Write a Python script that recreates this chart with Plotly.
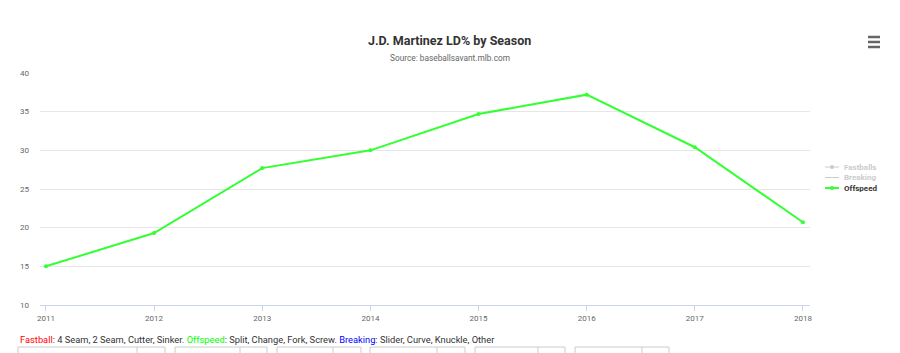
import plotly.graph_objects as go

years = [2011, 2012, 2013, 2014, 2015, 2016, 2017, 2018]
offspeed = [15.0, 19.3, 27.7, 30.0, 34.7, 37.2, 30.4, 20.7]
y_ticks = [10, 15, 20, 25, 30, 35, 40]
legend_names = ["Fastballs", "Breaking", "Offspeed"]
legend_colors = ["#cccccc", "#cccccc", "#33ff33"]
legend_text_colors = ["#cccccc", "#cccccc", "#333333"]
legend_markers = [True, False, True]

FONT = "Roboto"
W, H = 900, 353
L, R, T, B = 40, 90, 73, 48
pw, ph = W - L - R, H - T - B

def px_to_paper(x, y):
    return (x - L) / pw, (H - B - y) / ph

fig = go.Figure()
fig.add_trace(go.Scatter(x=years, y=offspeed, name="Offspeed", mode="lines+markers",
                         line=dict(color="#33ff33", width=2),
                         marker=dict(size=4, color="#33ff33"), showlegend=False))

annotations = []
def ann(text, x, y, size, color, xanchor="center", bold=False, family=FONT):
    px, py = px_to_paper(x, y)
    annotations.append(dict(text=f"<b>{text}</b>" if bold else text, x=px, y=py,
                            xref="paper", yref="paper", showarrow=False,
                            xanchor=xanchor, yanchor="middle",
                            font=dict(size=size, color=color, family=family)))

ann("J.D. Martinez LD% by Season", 450, 40, 12.5, "#333333", bold=True)
ann("Source: baseballsavant.mlb.com", 450, 58, 8.3, "#666666")
ann("<span style='color:#ff0000'>Fastball</span>: 4 Seam, 2 Seam, Cutter, Sinker. "
    "<span style='color:#00ff00'>Offspeed</span>: Split, Change, Fork, Screw. "
    "<span style='color:#0000ff'>Breaking</span>: Slider, Curve, Knuckle, Other",
    18, 339, 9.3, "#333333", xanchor="left")

shapes = []
# manual legend
leg_y = [167, 177.5, 188]
for name, col, tcol, mk, yy in zip(legend_names, legend_colors, legend_text_colors, legend_markers, leg_y):
    x0, y0 = px_to_paper(825, yy)
    x1, _ = px_to_paper(839, yy)
    shapes.append(dict(type="line", xref="paper", yref="paper", x0=x0, x1=x1, y0=y0, y1=y0,
                       line=dict(color=col, width=2 if tcol != "#cccccc" else 1)))
    if mk:
        cx0, cy0 = px_to_paper(830, yy - 2)
        cx1, cy1 = px_to_paper(834, yy + 2)
        shapes.append(dict(type="circle", xref="paper", yref="paper", x0=cx0, x1=cx1, y0=cy1, y1=cy0,
                           fillcolor=col, line=dict(width=0)))
    ann(name, 842, yy, 8, tcol, xanchor="left", bold=True)

# hamburger menu icon
for yy in [37, 42, 47]:
    x0, y0 = px_to_paper(868, yy)
    x1, _ = px_to_paper(880, yy)
    shapes.append(dict(type="line", xref="paper", yref="paper", x0=x0, x1=x1, y0=y0, y1=y0,
                       line=dict(color="#666666", width=2.5)))
# form control boxes at bottom
boxes = [(18, 137, 165), (175, 240, 267), (277, 333, 361), (370, 437, 465), (475, 538, 565), (575, 642, 669)]
for x0p, xd, x1p in boxes:
    a0, b0 = px_to_paper(x0p, 347)
    a1, b1 = px_to_paper(x1p, 360)
    shapes.append(dict(type="rect", xref="paper", yref="paper", x0=a0, x1=a1, y0=b1, y1=b0,
                       line=dict(color="#cccccc", width=1)))
    d0, _ = px_to_paper(xd, 0)
    shapes.append(dict(type="line", xref="paper", yref="paper", x0=d0, x1=d0, y0=b1, y1=b0,
                       line=dict(color="#cccccc", width=1)))

fig.update_layout(
    width=W, height=H,
    margin=dict(l=L, r=R, t=T, b=B, autoexpand=False),
    paper_bgcolor="white", plot_bgcolor="white",
    font=dict(family=FONT, color="#666666", size=8),
    showlegend=False,
    xaxis=dict(range=[2010.945, 2018.065], tickmode="array", tickvals=years,
               ticktext=[str(y) for y in years], showgrid=False, zeroline=False,
               showline=True, linecolor="#ccd6eb", linewidth=1,
               ticks="outside", ticklen=5, tickcolor="#ccd6eb",
               tickfont=dict(size=8, color="#666666")),
    yaxis=dict(range=[10, 40], tickvals=y_ticks, showgrid=True, gridcolor="#e6e6e6",
               gridwidth=1, zeroline=False, showline=False, ticks="",
               ticklabelstandoff=10,
               tickfont=dict(size=8, color="#666666")),
    annotations=annotations,
    shapes=shapes,
)

fig.write_html("out.html", config={"displayModeBar": False})
